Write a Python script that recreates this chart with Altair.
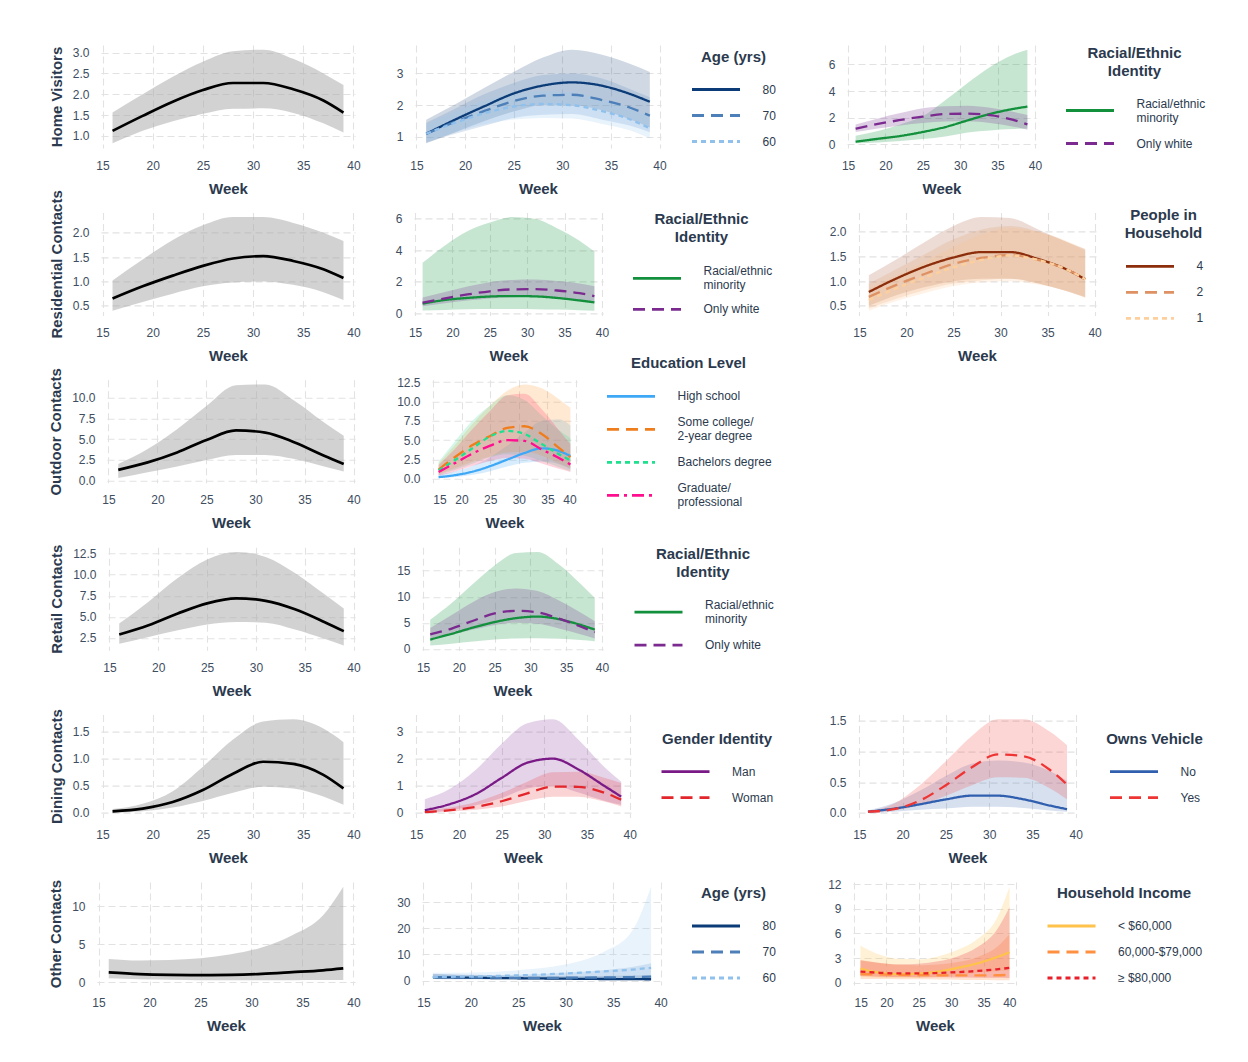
import altair as alt
import pandas as pd

# ---------------- data ----------------
WEEKS = [16, 19, 22, 25, 28, 31, 34, 37, 39]
X_TICKS = [15, 20, 25, 30, 35, 40]

HOME_MEAN = [1.12, 1.48, 1.82, 2.10, 2.27, 2.27, 2.12, 1.85, 1.56]
HOME_HI = [1.56, 2.0, 2.42, 2.78, 3.03, 3.07, 2.85, 2.5, 2.22]
HOME_LO = [0.82, 1.12, 1.35, 1.53, 1.65, 1.66, 1.55, 1.3, 1.08]

RES_MEAN = [0.65, 0.9, 1.12, 1.32, 1.47, 1.52, 1.42, 1.25, 1.07]
RES_HI = [1.02, 1.45, 1.85, 2.15, 2.32, 2.32, 2.2, 2.0, 1.83]
RES_LO = [0.4, 0.58, 0.75, 0.9, 0.98, 1.0, 0.93, 0.78, 0.62]

OUT_MEAN = [1.3, 2.2, 3.4, 4.9, 6.05, 5.8, 4.6, 3.0, 2.0]
OUT_HI = [2.0, 3.8, 6.2, 9.0, 11.5, 11.6, 9.6, 7.0, 5.4]
OUT_LO = [0.3, 1.0, 1.7, 2.5, 3.1, 3.1, 2.6, 1.7, 1.1]

RET_MEAN = [2.9, 4.0, 5.4, 6.6, 7.2, 6.9, 5.9, 4.4, 3.3]
RET_HI = [4.2, 6.8, 9.6, 11.8, 12.7, 12.1, 10.2, 7.7, 6.0]
RET_LO = [1.8, 2.6, 3.4, 4.1, 4.4, 4.3, 3.5, 2.4, 1.6]

DIN_MEAN = [0.03, 0.08, 0.2, 0.42, 0.72, 0.94, 0.9, 0.7, 0.45]
DIN_HI = [0.07, 0.17, 0.4, 0.85, 1.35, 1.68, 1.72, 1.55, 1.3]
DIN_LO = [0.0, 0.03, 0.1, 0.22, 0.37, 0.48, 0.45, 0.3, 0.15]

OTH_MEAN = [1.32, 1.1, 1.0, 0.97, 1.0, 1.12, 1.35, 1.6, 1.85]
OTH_HI = [3.1, 2.9, 2.95, 3.17, 3.7, 4.6, 6.2, 8.8, 12.6]
OTH_LO = [0.55, 0.42, 0.35, 0.3, 0.28, 0.28, 0.3, 0.32, 0.33]

AGE = ["80", "70", "60"]
HOME_AGE_MEAN = {"80": [1.1, 1.55, 1.97, 2.37, 2.62, 2.72, 2.62, 2.35, 2.11],
                 "70": [1.1, 1.48, 1.82, 2.13, 2.3, 2.33, 2.17, 1.92, 1.67],
                 "60": [1.1, 1.45, 1.75, 1.96, 2.04, 2.0, 1.82, 1.55, 1.27]}
HOME_AGE_HI = {"80": [1.54, 2.03, 2.55, 3.05, 3.5, 3.75, 3.6, 3.3, 3.05],
               "70": [1.45, 1.9, 2.35, 2.7, 2.95, 3.0, 2.85, 2.5, 2.25],
               "60": [1.4, 1.8, 2.15, 2.35, 2.45, 2.4, 2.2, 1.9, 1.62]}
HOME_AGE_LO = {"80": [0.8, 1.15, 1.5, 1.8, 2.0, 2.0, 1.85, 1.55, 1.3],
               "70": [0.82, 1.1, 1.35, 1.6, 1.7, 1.72, 1.55, 1.35, 1.15],
               "60": [0.85, 1.15, 1.4, 1.55, 1.6, 1.58, 1.42, 1.2, 0.95]}

RACE = ["Racial/ethnic minority", "Only white"]
HOME_RACE_MEAN = {"Racial/ethnic minority": [0.2, 0.42, 0.63, 0.93, 1.3, 1.8, 2.28, 2.65, 2.83],
                  "Only white": [1.18, 1.53, 1.83, 2.08, 2.28, 2.3, 2.2, 1.85, 1.5]}
HOME_RACE_HI = {"Racial/ethnic minority": [0.65, 1.0, 1.5, 2.1, 3.3, 4.6, 5.8, 6.7, 7.1],
                "Only white": [1.5, 1.95, 2.35, 2.7, 2.85, 2.9, 2.75, 2.45, 2.2]}
HOME_RACE_LO = {"Racial/ethnic minority": [0.08, 0.15, 0.25, 0.4, 0.6, 0.9, 1.05, 1.15, 1.2],
                "Only white": [0.92, 1.2, 1.42, 1.6, 1.72, 1.73, 1.6, 1.35, 1.1]}

RES_RACE_MEAN = {"Racial/ethnic minority": [0.62, 0.85, 0.98, 1.07, 1.1, 1.08, 0.98, 0.82, 0.7],
                 "Only white": [0.68, 0.95, 1.2, 1.4, 1.52, 1.54, 1.45, 1.28, 1.1]}
RES_RACE_HI = {"Racial/ethnic minority": [3.2, 4.3, 5.2, 5.75, 6.1, 6.0, 5.4, 4.6, 3.9],
               "Only white": [1.0, 1.35, 1.7, 1.98, 2.12, 2.15, 2.05, 1.9, 1.72]}
RES_RACE_LO = {"Racial/ethnic minority": [0.18, 0.22, 0.26, 0.28, 0.28, 0.27, 0.24, 0.2, 0.17],
               "Only white": [0.45, 0.65, 0.82, 0.95, 1.03, 1.05, 0.98, 0.85, 0.7]}

RET_RACE_MEAN = {"Racial/ethnic minority": [1.8, 2.9, 4.1, 5.15, 5.9, 6.2, 5.7, 4.6, 3.7],
                 "Only white": [2.8, 3.9, 5.4, 6.8, 7.3, 7.0, 5.8, 4.3, 3.2]}
RET_RACE_HI = {"Racial/ethnic minority": [5.6, 8.8, 12.5, 16.0, 18.4, 18.6, 16.2, 12.5, 9.8],
               "Only white": [4.0, 6.5, 9.0, 10.9, 11.6, 11.1, 9.3, 7.0, 5.3]}
RET_RACE_LO = {"Racial/ethnic minority": [0.65, 1.0, 1.4, 1.8, 2.0, 2.05, 1.95, 1.7, 1.45],
               "Only white": [1.8, 2.7, 3.7, 4.6, 5.0, 4.8, 3.9, 2.8, 2.0]}

PEOPLE = ["4", "2", "1"]
RES_PEOPLE_MEAN = {"4": [0.78, 1.06, 1.3, 1.48, 1.59, 1.59, 1.45, 1.24, 1.04],
                   "2": [0.68, 0.93, 1.15, 1.35, 1.47, 1.53, 1.43, 1.24, 1.04],
                   "1": [0.62, 0.86, 1.08, 1.28, 1.43, 1.52, 1.43, 1.24, 1.04]}
RES_PEOPLE_HI = {"4": [1.12, 1.45, 1.8, 2.12, 2.3, 2.28, 2.05, 1.8, 1.65],
                 "2": [0.95, 1.25, 1.55, 1.85, 2.05, 2.12, 2.0, 1.8, 1.62],
                 "1": [0.85, 1.12, 1.4, 1.7, 1.95, 2.08, 2.0, 1.82, 1.65]}
RES_PEOPLE_LO = {"4": [0.5, 0.72, 0.88, 1.0, 1.05, 1.05, 0.95, 0.8, 0.68],
                 "2": [0.45, 0.65, 0.82, 0.95, 1.02, 1.05, 0.95, 0.8, 0.67],
                 "1": [0.4, 0.6, 0.76, 0.9, 0.98, 1.0, 0.93, 0.8, 0.66]}

EDU = ["High school", "Some college/2-year degree", "Bachelors degree", "Graduate/professional"]
OUT_EDU_MEAN = {"High school": [0.22, 0.5, 0.95, 1.65, 2.5, 3.35, 3.95, 3.6, 2.95],
                "Some college/2-year degree": [1.2, 2.9, 4.4, 5.55, 6.6, 6.8, 5.8, 4.0, 2.8],
                "Bachelors degree": [1.1, 2.5, 4.0, 5.5, 6.2, 5.8, 4.5, 3.2, 2.4],
                "Graduate/professional": [0.9, 2.1, 3.3, 4.3, 5.0, 4.9, 3.8, 2.7, 1.85]}
OUT_EDU_HI = {"High school": [0.6, 1.0, 1.7, 2.8, 4.3, 6.0, 7.5, 7.7, 6.9],
              "Some college/2-year degree": [2.0, 4.5, 7.2, 9.5, 11.4, 12.2, 11.7, 10.3, 9.2],
              "Bachelors degree": [2.2, 5.0, 7.6, 9.5, 10.8, 10.2, 8.2, 6.3, 5.3],
              "Graduate/professional": [1.8, 4.0, 6.5, 8.8, 10.8, 11.0, 9.0, 6.3, 4.5]}
OUT_EDU_LO = {"High school": [0.1, 0.25, 0.55, 1.0, 1.6, 2.1, 2.2, 1.9, 1.25],
              "Some college/2-year degree": [0.6, 1.4, 2.2, 2.9, 3.4, 3.5, 3.0, 2.0, 1.4],
              "Bachelors degree": [0.5, 1.2, 2.0, 2.8, 3.2, 3.0, 2.3, 1.5, 1.0],
              "Graduate/professional": [0.4, 1.0, 1.7, 2.3, 2.7, 2.6, 2.0, 1.3, 0.9]}

GENDER = ["Man", "Woman"]
DIN_GENDER_MEAN = {"Man": [0.1, 0.33, 0.7, 1.29, 1.85, 2.0, 1.6, 1.0, 0.6],
                   "Woman": [0.03, 0.1, 0.22, 0.43, 0.72, 0.97, 0.96, 0.75, 0.49]}
DIN_GENDER_HI = {"Man": [0.5, 0.9, 1.6, 2.55, 3.3, 3.45, 2.7, 1.7, 1.15],
                 "Woman": [0.08, 0.2, 0.4, 0.73, 1.15, 1.5, 1.52, 1.3, 1.1]}
DIN_GENDER_LO = {"Man": [0.0, 0.1, 0.28, 0.55, 0.9, 1.0, 0.75, 0.45, 0.3],
                 "Woman": [0.0, 0.05, 0.12, 0.24, 0.45, 0.6, 0.6, 0.42, 0.24]}

VEHICLE = ["No", "Yes"]
DIN_VEH_MEAN = {"No": [0.02, 0.07, 0.14, 0.22, 0.28, 0.28, 0.22, 0.12, 0.06],
                "Yes": [0.02, 0.06, 0.2, 0.45, 0.74, 0.95, 0.92, 0.7, 0.46]}
DIN_VEH_HI = {"No": [0.04, 0.16, 0.36, 0.6, 0.8, 0.85, 0.82, 0.68, 0.52],
              "Yes": [0.03, 0.15, 0.45, 0.84, 1.25, 1.52, 1.52, 1.32, 1.1]}
DIN_VEH_LO = {"No": [0.0, 0.02, 0.05, 0.07, 0.1, 0.1, 0.08, 0.04, 0.02],
              "Yes": [0.0, 0.04, 0.13, 0.28, 0.45, 0.58, 0.57, 0.4, 0.22]}

OTH_AGE_MEAN = {"80": [1.3, 1.15, 1.0, 0.9, 0.8, 0.7, 0.6, 0.55, 0.5],
                "70": [1.35, 1.2, 1.1, 1.05, 1.05, 1.1, 1.2, 1.35, 1.5],
                "60": [1.45, 1.5, 1.7, 2.0, 2.4, 2.9, 3.5, 4.2, 4.9]}
OTH_AGE_HI = {"80": [2.5, 2.1, 1.9, 1.8, 1.75, 1.75, 1.8, 1.9, 2.0],
              "70": [2.6, 2.3, 2.1, 2.2, 2.6, 3.2, 4.0, 5.2, 6.6],
              "60": [3.0, 3.0, 3.3, 4.0, 5.0, 7.0, 11.0, 19.0, 36.0]}
OTH_AGE_LO = {"80": [0.6, 0.5, 0.42, 0.35, 0.28, 0.22, 0.17, 0.13, 0.1],
              "70": [0.7, 0.65, 0.6, 0.55, 0.5, 0.45, 0.4, 0.38, 0.35],
              "60": [0.6, 0.7, 0.8, 0.9, 0.95, 0.95, 0.95, 0.9, 0.85]}

INCOME = ["< $60,000", "60,000-$79,000", "≥ $80,000"]
OTH_INC_MEAN = {"< $60,000": [1.7, 1.2, 1.02, 1.1, 1.35, 1.8, 2.35, 3.1, 3.7],
                "60,000-$79,000": [1.05, 1.0, 0.95, 0.92, 0.9, 0.88, 0.88, 0.9, 0.95],
                "≥ $80,000": [1.35, 1.2, 1.12, 1.12, 1.18, 1.28, 1.42, 1.62, 1.8]}
OTH_INC_HI = {"< $60,000": [4.5, 3.4, 2.9, 2.85, 3.2, 4.0, 5.3, 7.8, 11.7],
              "60,000-$79,000": [2.8, 2.4, 2.2, 2.1, 2.2, 2.5, 3.1, 4.3, 5.9],
              "≥ $80,000": [2.7, 2.4, 2.2, 2.3, 2.6, 3.2, 4.3, 6.4, 9.2]}
OTH_INC_LO = {"< $60,000": [0.7, 0.6, 0.55, 0.55, 0.7, 0.9, 1.2, 1.4, 1.5],
              "60,000-$79,000": [0.45, 0.45, 0.42, 0.4, 0.38, 0.35, 0.32, 0.3, 0.28],
              "≥ $80,000": [0.8, 0.72, 0.68, 0.66, 0.65, 0.63, 0.6, 0.58, 0.55]}

Y_HOME = [1.0, 1.5, 2.0, 2.5, 3.0]
Y_RES = [0.5, 1.0, 1.5, 2.0]
Y_OUT = [0.0, 2.5, 5.0, 7.5, 10.0]
Y_RET = [2.5, 5.0, 7.5, 10.0, 12.5]
Y_DIN = [0.0, 0.5, 1.0, 1.5]
Y_OTH = [0, 5, 10]
Y_HOME_AGE = [1, 2, 3]
Y_HOME_RACE = [0, 2, 4, 6]
Y_RES_RACE = [0, 2, 4, 6]
Y_RES_PEOPLE = [0.5, 1.0, 1.5, 2.0]
Y_OUT_EDU = [0.0, 2.5, 5.0, 7.5, 10.0, 12.5]
Y_RET_RACE = [0, 5, 10, 15]
Y_DIN_GENDER = [0, 1, 2, 3]
Y_DIN_VEH = [0.0, 0.5, 1.0, 1.5]
Y_OTH_AGE = [0, 10, 20, 30]
Y_OTH_INC = [0, 3, 6, 9, 12]

# ---------------- style ----------------
PANEL_H = 103
TEXT = "#2b3a4e"
LABEL = "#3e4d60"
FONT = "Liberation Sans"
SOLID, DASHED, DOTTED, DASHDOT = [1, 0], [12, 7], [5, 4], [12, 5, 3, 5]

XR = max(WEEKS) - min(WEEKS)
XDOM = [min(WEEKS) - 0.05 * XR, max(WEEKS) + 0.05 * XR]


def make_df(groups, mean, lo, hi):
    rows = []
    for g in groups:
        for i, w in enumerate(WEEKS):
            rows.append({"week": w, "group": g, "mean": mean[g][i],
                         "lo": lo[g][i], "hi": hi[g][i]})
    return pd.DataFrame(rows)


def ydom(df):
    a, b = df["lo"].min(), df["hi"].max()
    p = (b - a) * 0.05
    return [a - p, b + p]


def xenc():
    return alt.X("week:Q", scale=alt.Scale(domain=XDOM, nice=False, zero=False),
                 axis=alt.Axis(values=X_TICKS, title="Week", format="d"))


def yaxis(ticks, fmt, title):
    if title:
        return alt.Axis(values=ticks, format=fmt, title=title)
    return alt.Axis(values=ticks, format=fmt, title=None)


def single_panel(mean, lo, hi, title, ticks, fmt, width):
    df = make_df(["all"], {"all": mean}, {"all": lo}, {"all": hi})
    ys = alt.Scale(domain=ydom(df), nice=False, zero=False)
    ax = yaxis(ticks, fmt, title)
    band = alt.Chart(df).mark_area(color="#a6a6a6", opacity=0.5, interpolate="monotone").encode(
        x=xenc(), y=alt.Y("lo:Q", scale=ys, axis=ax), y2="hi:Q")
    line = alt.Chart(df).mark_line(color="black", strokeWidth=2.7, interpolate="monotone").encode(
        x=xenc(), y=alt.Y("mean:Q", scale=ys, axis=ax))
    return alt.layer(band, line).properties(width=width, height=PANEL_H)


def group_panel(groups, mean, lo, hi, colors, bands, band_op, dashes, ticks, fmt,
                width, ltitle, lx, ly, breaks=None, tpad=17, rpad=10):
    df = make_df(groups, mean, lo, hi)
    ys = alt.Scale(domain=ydom(df), nice=False, zero=False)
    ax = yaxis(ticks, fmt, None)
    expr = "datum.label"
    baseline = "middle"
    if breaks:
        for k, v in breaks.items():
            arr = "[" + ", ".join("'" + s + "'" for s in v) + "]"
            expr = "datum.label == '" + k + "' ? " + arr + " : (" + expr + ")"
        keys = "[" + ", ".join("'" + k + "'" for k in breaks) + "]"
        baseline = alt.ExprRef(expr="indexof(" + keys + ", datum.value) >= 0 ? 'bottom' : 'middle'")
    leg = alt.Legend(title=ltitle, orient="none", legendX=lx, legendY=ly,
                     symbolType="stroke", symbolSize=2304, symbolStrokeWidth=2.8,
                     labelOffset=21, clipHeight=16, rowPadding=rpad, titlePadding=tpad,
                     titleAnchor="middle", titleAlign="center", titleLineHeight=18,
                     labelExpr=expr, labelBaseline=baseline, padding=0)
    # band fill scale listed in reverse so its (hidden) legend never merges with the line legend
    band = alt.Chart(df).mark_area(opacity=band_op, interpolate="monotone").encode(
        x=xenc(), y=alt.Y("lo:Q", scale=ys, axis=ax), y2="hi:Q",
        fill=alt.Fill("group:N", scale=alt.Scale(domain=groups[::-1], range=bands[::-1]),
                      legend=None))
    line = alt.Chart(df).mark_line(strokeWidth=2.3, interpolate="monotone").encode(
        x=xenc(), y=alt.Y("mean:Q", scale=ys, axis=ax),
        stroke=alt.Stroke("group:N", scale=alt.Scale(domain=groups, range=colors), legend=leg),
        strokeDash=alt.StrokeDash("group:N", scale=alt.Scale(domain=groups, range=dashes), legend=leg))
    return alt.layer(band, line).properties(width=width, height=PANEL_H)


SPACER_DF = pd.DataFrame({"v": [0]})


def spacer(w):
    return alt.Chart(SPACER_DF).mark_point(opacity=0).encode(
        x=alt.X("v:Q", axis=None), y=alt.Y("v:Q", axis=None)).properties(width=w, height=PANEL_H)


AGE_COL = ["#0b3c78", "#4d7fb8", "#8fc1ec"]
AGE_BAND = ["#2a4f80", "#5a8cc4", "#9ccaf0"]
RACE_COL = ["#12903c", "#7b2a90"]
RACE_BAND = ["#1f9a4c", "#7b3a94"]
PEOPLE_COL = ["#8c2e0b", "#de9163", "#fdcf9c"]
PEOPLE_BAND = ["#a0522d", "#e0955f", "#fdc58a"]
EDU_COL = ["#3ea8f6", "#f07d1c", "#1ee08e", "#ff0f8f"]
EDU_BAND = ["#48a8f0", "#ff9a33", "#3fd89a", "#ff3366"]
GENDER_COL = ["#7a1a87", "#e3262b"]
GENDER_BAND = ["#8a3a9a", "#e8383c"]
VEH_COL = ["#2f5fae", "#ef3434"]
VEH_BAND = ["#4a72b8", "#f04040"]
INC_COL = ["#ffc24a", "#ff9040", "#e8202a"]
INC_BAND = ["#ffc85a", "#ff8a40", "#e8323a"]

RACE_BREAK = {"Racial/ethnic minority": ["Racial/ethnic", "minority"]}
EDU_BREAK = {"Some college/2-year degree": ["Some college/", "2-year degree"],
             "Graduate/professional": ["Graduate/", "professional"]}
RACE_TITLE = ["Racial/Ethnic", "Identity"]

# ---------------- panels ----------------
p11 = single_panel(HOME_MEAN, HOME_LO, HOME_HI, "Home Visitors", Y_HOME, ".1f", 254)
p12 = group_panel(AGE, HOME_AGE_MEAN, HOME_AGE_LO, HOME_AGE_HI, AGE_COL, AGE_BAND, 0.22,
                  [SOLID, DASHED, DOTTED], Y_HOME_AGE, "d", 246, "Age (yrs)", 275.5, 4.5)
p13 = group_panel(RACE, HOME_RACE_MEAN, HOME_RACE_LO, HOME_RACE_HI, RACE_COL, RACE_BAND, 0.25,
                  [SOLID, DASHED], Y_HOME_RACE, "d", 189, RACE_TITLE, 217.5, 0.5, RACE_BREAK,
                  tpad=24, rpad=12)

p21 = single_panel(RES_MEAN, RES_LO, RES_HI, "Residential Contacts", Y_RES, ".1f", 254)
p22 = group_panel(RACE, RES_RACE_MEAN, RES_RACE_LO, RES_RACE_HI, RACE_COL, RACE_BAND, 0.25,
                  [SOLID, DASHED], Y_RES_RACE, "d", 189, RACE_TITLE, 217.5, 0, RACE_BREAK,
                  tpad=25, rpad=10)
p23 = group_panel(PEOPLE, RES_PEOPLE_MEAN, RES_PEOPLE_LO, RES_PEOPLE_HI, PEOPLE_COL, PEOPLE_BAND, 0.2,
                  [SOLID, DASHED, DOTTED], Y_RES_PEOPLE, ".1f", 238, ["People in", "Household"], 266.5, -4)

p31 = single_panel(OUT_MEAN, OUT_LO, OUT_HI, "Outdoor Contacts", Y_OUT, ".1f", 248)
p32 = group_panel(EDU, OUT_EDU_MEAN, OUT_EDU_LO, OUT_EDU_HI, EDU_COL, EDU_BAND, 0.22,
                  [SOLID, DASHED, DOTTED, DASHDOT], Y_OUT_EDU, ".1f", 145, "Education Level",
                  173.5, -23.5, EDU_BREAK, tpad=17, rpad=12)

p41 = single_panel(RET_MEAN, RET_LO, RET_HI, "Retail Contacts", Y_RET, ".1f", 247)
p42 = group_panel(RACE, RET_RACE_MEAN, RET_RACE_LO, RET_RACE_HI, RACE_COL, RACE_BAND, 0.25,
                  [SOLID, DASHED], Y_RET_RACE, "d", 181, RACE_TITLE, 211, 0, RACE_BREAK,
                  tpad=24, rpad=12)

p51 = single_panel(DIN_MEAN, DIN_LO, DIN_HI, "Dining Contacts", Y_DIN, ".1f", 254)
p52 = group_panel(GENDER, DIN_GENDER_MEAN, DIN_GENDER_LO, DIN_GENDER_HI, GENDER_COL, GENDER_BAND, 0.22,
                  [SOLID, DASHED], Y_DIN_GENDER, "d", 216, "Gender Identity", 245, 17)
p53 = group_panel(VEHICLE, DIN_VEH_MEAN, DIN_VEH_LO, DIN_VEH_HI, VEH_COL, VEH_BAND, 0.22,
                  [SOLID, DASHED], Y_DIN_VEH, ".1f", 219, "Owns Vehicle", 248.5, 17)

p61 = single_panel(OTH_MEAN, OTH_LO, OTH_HI, "Other Contacts", Y_OTH, "d", 258)
p62 = group_panel(AGE, OTH_AGE_MEAN, OTH_AGE_LO, OTH_AGE_HI, AGE_COL, AGE_BAND, 0.22,
                  [SOLID, DASHED, DOTTED], Y_OTH_AGE, "d", 240, "Age (yrs)", 268.5, 4)
p63 = group_panel(INCOME, OTH_INC_MEAN, OTH_INC_LO, OTH_INC_HI, INC_COL, INC_BAND, 0.25,
                  [SOLID, DASHED, DOTTED], Y_OTH_INC, "d", 164, "Household Income", 193, 4)

IND = dict(x="independent", y="independent", stroke="independent",
           strokeDash="independent", fill="independent")


def row(*items):
    return alt.hconcat(*items, spacing=0, bounds="flush").resolve_scale(**IND).resolve_legend(
        stroke="independent", strokeDash="independent", fill="independent")


rows = [
    row(spacer(4), p11, spacer(60), p12, spacer(186), p13),
    row(spacer(4), p21, spacer(59), p22, spacer(255), p23),
    row(spacer(10), p31, spacer(77), p32),
    row(spacer(11), p41, spacer(66.5), p42),
    row(spacer(4), p51, spacer(59.5), p52, spacer(226.5), p53),
    row(p61, spacer(67), p62, spacer(190.5), p63),
]

chart = alt.vconcat(*rows, spacing=167.4, bounds="flush").resolve_scale(**IND).resolve_legend(
    stroke="independent", strokeDash="independent", fill="independent"
).properties(
    padding={"left": 40, "top": 37, "right": 5, "bottom": 5}
).configure_view(stroke=None).configure_axis(
    domain=False, ticks=False, grid=True, gridColor="#e2e2e2", gridDash=[7, 4], gridWidth=1.1,
    labelFont=FONT, labelFontSize=12, labelColor=LABEL,
    titleFont=FONT, titleFontSize=15, titleFontWeight="bold", titleColor=TEXT
).configure_axisX(labelPadding=12, titlePadding=10).configure_axisY(
    labelPadding=12, titlePadding=8
).configure_legend(
    labelFont=FONT, labelFontSize=12, labelColor=TEXT, titleFont=FONT, titleFontSize=15,
    titleFontWeight="bold", titleColor=TEXT
)

chart.save("out.html", embed_options={"renderer": "svg", "actions": False})
